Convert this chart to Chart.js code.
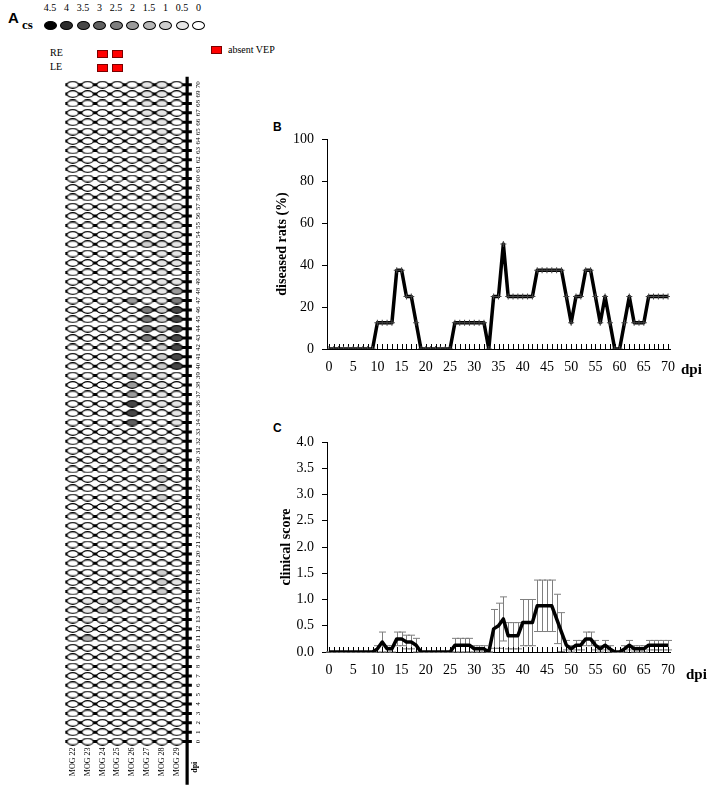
<!DOCTYPE html>
<html>
<head>
<meta charset="utf-8">
<script src="https://cdn.jsdelivr.net/npm/chart.js@4.4.1/dist/chart.umd.min.js"></script>
<style>
  body { margin:0; width:709px; height:790px; position:relative; overflow:hidden; background:#fff;
         font-family:"Liberation Serif", "Times New Roman", serif; color:#000; }
  canvas, .t, .box { position:absolute; }
  .t { white-space:nowrap; line-height:1; }
  .letter { font-family:"Liberation Sans", Arial, sans-serif; font-weight:bold; }
</style>
</head>
<body>
<div class="t letter" style="left:8px;top:10px;font-size:15px">A</div>
<div class="t" style="left:22px;top:18px;font-size:13px;font-weight:bold">cs</div>
<div class="t" style="left:50px;top:48px;font-size:10px">RE</div>
<div class="t" style="left:50px;top:62px;font-size:10px">LE</div>
<div class="t" style="left:228px;top:45px;font-size:10px">absent VEP</div>
<div id="legendA"></div>
<canvas id="gridChart" width="240" height="730" style="left:0;top:60px"></canvas>

<div class="t letter" style="left:273px;top:121px;font-size:12px">B</div>
<canvas id="ratsChart" width="469" height="285" style="left:240px;top:110px"></canvas>
<div class="t" style="left:681px;top:362px;font-size:15px;font-weight:bold">dpi</div>

<div class="t letter" style="left:273px;top:422px;font-size:12px">C</div>
<canvas id="scoreChart" width="469" height="285" style="left:240px;top:412px"></canvas>
<div class="t" style="left:686px;top:667px;font-size:15px;font-weight:bold">dpi</div>

<script>
const rats = ['MOG 22', 'MOG 23', 'MOG 24', 'MOG 25', 'MOG 26', 'MOG 27', 'MOG 28', 'MOG 29'];
const days = Array.from({length: 71}, (_, i) => i);
const xTicks = [0, 5, 10, 15, 20, 25, 30, 35, 40, 45, 50, 55, 60, 65, 70];
const pctTicks = [0, 20, 40, 60, 80, 100];
const scoreTicks = [0, 0.5, 1, 1.5, 2, 2.5, 3, 3.5, 4];
const csLevels = [4.5, 4, 3.5, 3, 2.5, 2, 1.5, 1, 0.5, 0];
const vepAbsentRE = ['MOG 24', 'MOG 25'];
const vepAbsentLE = ['MOG 24', 'MOG 25'];

// clinical score per rat, day 0..70
const mog22 = [
  0,0,0,0,0,0,0,0,0,0,
  0,0,0,0,0,0,0,0,0,0,
  0,0,0,0,0,0,0,0,0,0,
  0,0,0,0,0,0,0,0,0,0,
  0,0,0,0,0,0,0,0,0,0,
  0,0,0,0,0,0,0,0,0,0,
  0,0,0,0,0,0,0,0,0,0,0];
const mog23 = [
  0,0,0,0,0,0,0,0,0,0,
  0,1.5,0.5,0.5,0.5,0.5,0,0,0,0,
  0,0,0,0,0,0,0,0,0,0,
  0,0,0,0,0,0,0,0,0,0,
  0,0,0,0,0,0,0,0,0,0,
  0,0,0,0,0,0,0,0,0,0,
  0,0,0,0,0,0,0,0,0,0,0];
const mog24 = [
  0,0,0,0,0,0,0,0,0,0,
  0,0,0,0,1,0.5,0,0,0,0,
  0,0,0,0,0,0,0,0,0,0,
  0,0,0,0,0,0,0,0,0,0,
  0,0,0,0,0,0,0,0,0,0,
  0,0,0,0,0,0,0,0,0,0,
  0,0,0,0,0,0,0,0,0,0,0];
const mog25 = [
  0,0,0,0,0,0,0,0,0,0,
  0,0,0,0,0.5,1,0.5,0,0,0,
  0,0,0,0,0,0,0,0,0,0,
  0,0,0,0,0,0,0,0,0,0,
  0,0,0,0,0,0,0,0,0,0,
  0,0,0,0,0,0,0,0,0,0,
  0,0,0,0,0,0,0,0,0,0,0];
const mog26 = [
  0,0,0,0,0,0,0,0,0,0,
  0.5,0,0,0,0,0,0,0,0,0,
  0,0,0,0,0,0,0,0,0,0,
  0,0,0,0,3,3.5,3.5,2,2,2,
  0,0,0,0,0,0,0,2,0,0,
  0,0,0,0,0,0,0,0,0,0,
  0,0,0,0,0,0,0,0,0,0,0];
const mog27 = [
  0,0,0,0,0,0,0,0,0,0,
  0,0,0,0,0,0,0,0,0,0,
  0,0,0,0,0,0,0,0,0,0,
  0,0,0,0,0,0,0.5,0,0,0,
  0,0,0,2.5,2.5,2.5,2.5,0,0.5,0,
  0,0,0,1,1,0,0,0,0,0,
  0,0,0.5,0,0,0,0.5,0.5,0.5,0.5,0.5];
const mog28 = [
  0,0,0,0,0,0,0,0,0,0,
  0,0,0,0,0,0,1,1,1,0,
  0,0,0,0,0,0,1,1,1,1,
  0.5,0.5,0.5,0,0,0,0.5,0.5,0.5,0.5,
  1,1,1,1,1,1,1,0.5,0.5,0.5,
  0.5,0.5,0.5,0.5,0.5,0.5,0.5,0.5,0.5,0,
  0,0.5,0.5,0.5,0.5,0.5,0.5,0.5,0.5,0.5,0.5];
const mog29 = [
  0,0,0,0,0,0,0,0,0,0,
  0,0,0,0,0,0,0,0.5,0,0,
  0,0,0,0,0,0,0,0,0,0,
  0,0,0,0,0.5,0.5,0.5,0,0,0,
  3.5,3.5,3.5,3.5,3.5,3.5,3.5,2.5,2,0.5,
  0,0.5,0.5,0.5,0.5,0.5,0,0.5,0,0,
  0,0,0,0,0,0,0,0,0,0,0];
const scores = [mog22, mog23, mog24, mog25, mog26, mog27, mog28, mog29];

// B: diseased rats (%)
const diseasedPct = [
  0,0,0,0,0,0,0,0,0,0,
  12.5,12.5,12.5,12.5,37.5,37.5,25,25,12.5,0,
  0,0,0,0,0,0,12.5,12.5,12.5,12.5,
  12.5,12.5,12.5,0,25,25,50,25,25,25,
  25,25,25,37.5,37.5,37.5,37.5,37.5,37.5,25,
  12.5,25,25,37.5,37.5,25,12.5,25,12.5,0,
  0,12.5,25,12.5,12.5,12.5,25,25,25,25,25];

// C: mean clinical score and error
const meanScore = [
  0,0,0,0,0,0,0,0,0,0,
  0.06,0.19,0.06,0.06,0.25,0.25,0.19,0.19,0.13,0,
  0,0,0,0,0,0,0.13,0.13,0.13,0.13,
  0.06,0.06,0.06,0,0.44,0.5,0.63,0.31,0.31,0.31,
  0.56,0.56,0.56,0.88,0.88,0.88,0.88,0.63,0.38,0.13,
  0.06,0.13,0.13,0.25,0.25,0.13,0.06,0.13,0.06,0,
  0,0.06,0.13,0.06,0.06,0.06,0.13,0.13,0.13,0.13,0.13];
const semScore = [
  0,0,0,0,0,0,0,0,0,0,
  0.06,0.19,0.06,0.06,0.13,0.13,0.13,0.13,0.13,0,
  0,0,0,0,0,0,0.13,0.13,0.13,0.13,
  0.06,0.06,0.06,0,0.37,0.43,0.42,0.25,0.25,0.25,
  0.44,0.44,0.44,0.49,0.49,0.49,0.49,0.47,0.37,0.09,
  0.06,0.09,0.09,0.13,0.13,0.09,0.06,0.09,0.06,0,
  0,0.06,0.09,0.06,0.06,0.06,0.09,0.09,0.09,0.09,0.09];

const csShades = ['#000000','#2b2b2b','#474747','#606060','#7d7d7d','#9b9b9b','#b6b6b6','#cfcfcf','#e6e6e6','#ffffff'];
const serif = '"Liberation Serif", "Times New Roman", serif';
Chart.defaults.font.family = serif;
Chart.defaults.color = '#000';

// ---- panel A legend
const legendA = document.getElementById('legendA');
csLevels.forEach((v, k) => {
  const cx = 50 + 16.5 * k;
  const lab = document.createElement('div');
  lab.className = 't';
  lab.textContent = v;
  lab.style.cssText = `left:${cx - 10}px;top:3px;width:20px;text-align:center;font-size:10px`;
  const e = document.createElement('div');
  e.className = 'box';
  e.style.cssText = `left:${cx - 6.5}px;top:20.5px;width:11px;height:7px;border:1px solid #000;border-radius:50%;background:${csShades[k]}`;
  legendA.append(lab, e);
});
function redBox(left, top) {
  const b = document.createElement('div');
  b.className = 'box';
  b.style.cssText = `left:${left}px;top:${top}px;width:9px;height:6px;border:1px solid #7a0000;background:#ff0000`;
  legendA.append(b);
}
vepAbsentRE.forEach(r => redBox(70.7 + 15.5 * rats.indexOf(r) - 5, 50));
vepAbsentLE.forEach(r => redBox(70.7 + 15.5 * rats.indexOf(r) - 5, 63.5));
redBox(211, 46);

// ---- panel A grid
const cellImgs = {};
csLevels.forEach((v, k) => {
  const c = document.createElement('canvas');
  c.width = 13; c.height = 8;
  const g = c.getContext('2d');
  g.beginPath();
  g.ellipse(6.5, 4, 5.8, 3.3, 0, 0, Math.PI * 2);
  g.fillStyle = csShades[k];
  g.fill();
  g.lineWidth = 1.2;
  g.strokeStyle = '#000';
  g.stroke();
  cellImgs[v] = c;
});

// first dataset is drawn on top in Chart.js
const cells = {
  data: rats.flatMap((r, i) => days.map(d => ({x: i, y: d, cs: scores[i][d]}))),
  pointStyle: c => c.raw ? cellImgs[c.raw.cs] : 'circle',
  pointRadius: 4
};
const rowLines = days.map(d => ({
  data: [{x: -0.5, y: d}, {x: 8.02, y: d}],
  showLine: true, borderColor: '#000', borderWidth: 3, pointRadius: 0
}));
const axisLine = {
  data: [{x: 7.7, y: -4.6}, {x: 7.7, y: 70.84}],
  showLine: true, borderColor: '#000', borderWidth: 3.2, pointRadius: 0
};

const gridLabels = {
  id: 'gridLabels',
  afterDraw(chart) {
    const {ctx, scales: {x, y}} = chart;
    ctx.save();
    ctx.fillStyle = '#000';
    ctx.textBaseline = 'middle';
    ctx.font = '7px ' + serif;
    ctx.textAlign = 'center';
    days.forEach(d => {
      ctx.save();
      ctx.translate(x.getPixelForValue(8.45), y.getPixelForValue(d));
      ctx.rotate(-Math.PI / 2);
      ctx.fillText(String(d), 0, 0);
      ctx.restore();
    });
    ctx.font = '8px ' + serif;
    ctx.textAlign = 'right';
    rats.forEach((r, i) => {
      ctx.save();
      ctx.translate(x.getPixelForValue(i), y.getPixelForValue(-0.63));
      ctx.rotate(-Math.PI / 2);
      ctx.fillText(r, 0, 0);
      ctx.restore();
    });
    ctx.font = 'bold 8px ' + serif;
    ctx.textAlign = 'center';
    ctx.translate(x.getPixelForValue(8.23), y.getPixelForValue(-2.73));
    ctx.rotate(-Math.PI / 2);
    ctx.fillText('dpi', 0, 0);
    ctx.restore();
  }
};

new Chart(document.getElementById('gridChart'), {
  type: 'scatter',
  data: {datasets: [cells, axisLine, ...rowLines]},
  options: {
    animation: false, responsive: false, events: [],
    layout: {padding: 0},
    plugins: {legend: {display: false}, tooltip: {enabled: false}},
    scales: {
      x: {type: 'linear', min: -4.561, max: 10.923, display: false},
      y: {type: 'linear', min: -4.625, max: 72.10, display: false}
    }
  },
  plugins: [gridLabels]
});

// ---- panels B and C
const dayTicks = {
  id: 'dayTicks',
  beforeDatasetsDraw(chart) {
    const {ctx, scales: {x, y}} = chart;
    const y0 = y.getPixelForValue(0);
    ctx.save();
    ctx.strokeStyle = '#000';
    ctx.lineWidth = 1;
    ctx.beginPath();
    days.forEach(d => {
      const px = Math.round(x.getPixelForValue(d)) + 0.5;
      ctx.moveTo(px, y0);
      ctx.lineTo(px, y0 - 5);
    });
    ctx.stroke();
    ctx.restore();
  }
};

const errorBars = {
  id: 'errorBars',
  beforeDatasetsDraw(chart) {
    const {ctx, scales: {x, y}} = chart;
    ctx.save();
    ctx.strokeStyle = '#7f7f7f';
    ctx.lineWidth = 1;
    ctx.beginPath();
    days.forEach((d, i) => {
      const px = Math.round(x.getPixelForValue(d)) + 0.5;
      const t = y.getPixelForValue(meanScore[i] + semScore[i]);
      const b = y.getPixelForValue(Math.max(0, meanScore[i] - semScore[i]));
      ctx.moveTo(px, t); ctx.lineTo(px, b);
      ctx.moveTo(px - 3.5, t); ctx.lineTo(px + 3.5, t);
      ctx.moveTo(px - 3.5, b); ctx.lineTo(px + 3.5, b);
    });
    ctx.stroke();
    ctx.restore();
  }
};

function xScale(height) {
  return {
    type: 'linear', min: -0.4, max: 70.4,
    afterBuildTicks: s => { s.ticks = xTicks.map(v => ({value: v})); },
    grid: {display: false, drawTicks: false},
    border: {display: true, color: '#000', width: 1},
    ticks: {font: {size: 14}, padding: 10, color: '#000', maxRotation: 0, autoSkip: false},
    afterFit: s => { s.height = height; }
  };
}

new Chart(document.getElementById('ratsChart'), {
  type: 'line',
  data: {datasets: [{
    data: days.map((d, i) => ({x: d, y: diseasedPct[i]})),
    borderColor: '#000', borderWidth: 3.5, tension: 0, borderJoinStyle: 'round',
    pointStyle: 'cross', pointRadius: 3, pointBorderWidth: 1, pointBorderColor: '#444'
  }]},
  options: {
    animation: false, responsive: false, events: [],
    layout: {padding: {left: 32, right: 39, top: 29, bottom: 0}},
    plugins: {legend: {display: false}, tooltip: {enabled: false}},
    scales: {
      x: xScale(46),
      y: {
        min: 0, max: 100,
        afterBuildTicks: s => { s.ticks = pctTicks.map(v => ({value: v})); },
        grid: {drawOnChartArea: false, tickLength: 5, color: '#000'},
        border: {color: '#000', width: 1},
        ticks: {font: {size: 14}, padding: 8, color: '#000'},
        title: {display: true, text: 'diseased rats (%)', font: {size: 14, weight: 'bold'}, color: '#000', padding: {top: 2, bottom: 0}},
        afterFit: s => { s.width = 55; }
      }
    }
  },
  plugins: [dayTicks]
});

new Chart(document.getElementById('scoreChart'), {
  type: 'line',
  data: {datasets: [{
    data: days.map((d, i) => ({x: d, y: meanScore[i]})),
    borderColor: '#000', borderWidth: 3.5, tension: 0, borderJoinStyle: 'round', pointRadius: 0
  }]},
  options: {
    animation: false, responsive: false, events: [],
    layout: {padding: {left: 32, right: 39, top: 30, bottom: 0}},
    plugins: {legend: {display: false}, tooltip: {enabled: false}},
    scales: {
      x: xScale(45),
      y: {
        min: 0, max: 4,
        afterBuildTicks: s => { s.ticks = scoreTicks.map(v => ({value: v})); },
        grid: {drawOnChartArea: false, tickLength: 5, color: '#000'},
        border: {color: '#000', width: 1},
        ticks: {font: {size: 14}, padding: 8, color: '#000', callback: v => v.toFixed(1)},
        title: {display: true, text: 'clinical score', font: {size: 14, weight: 'bold'}, color: '#000', padding: {top: 6, bottom: 0}},
        afterFit: s => { s.width = 55; }
      }
    }
  },
  plugins: [errorBars, dayTicks]
});
</script>
</body>
</html>
